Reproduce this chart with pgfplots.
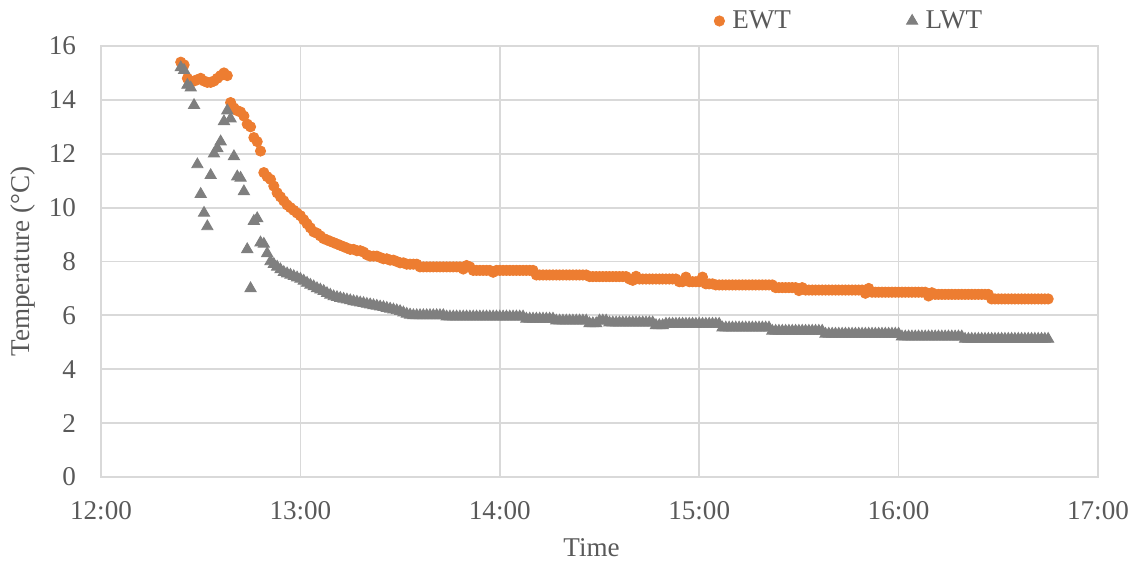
\documentclass[border=0pt]{standalone}
\usepackage{fontspec}
\setmainfont{Liberation Serif}
\usepackage{pgfplots}
\usepackage{pgfplotstable}
\pgfplotsset{compat=1.18}
\definecolor{ewtc}{HTML}{ED7D31}
\definecolor{lwtc}{HTML}{7F7F7F}
\definecolor{gridc}{HTML}{D9D9D9}
\definecolor{txtc}{HTML}{595959}

% time in minutes after 12:00, temperature in degC
\pgfplotstableread[row sep=\\]{
m t\\
24 15.4\\ 25 15.3\\ 26 14.8\\ 27 14.7\\ 28 14.7\\ 29 14.75\\ 30 14.8\\ 31 14.7\\ 32 14.65\\ 33 14.65\\
34 14.7\\ 35 14.8\\ 36 14.9\\ 37 15.0\\ 38 14.9\\ 39 13.9\\ 40 13.7\\ 41 13.6\\ 42 13.55\\ 43 13.4\\
44 13.1\\ 45 13.0\\ 46 12.6\\ 47 12.45\\ 48 12.1\\ 49 11.3\\ 50 11.15\\ 51 11.05\\ 52 10.8\\ 53 10.55\\
54 10.4\\ 55 10.25\\ 56 10.1\\ 57 10.0\\ 58 9.9\\ 59 9.8\\ 60 9.7\\ 61 9.55\\ 62 9.4\\ 63 9.25\\
64 9.1\\ 65 9.05\\ 66 8.95\\ 67 8.85\\ 68 8.8\\ 69 8.75\\ 70 8.7\\ 71 8.65\\ 72 8.6\\ 73 8.55\\
74 8.5\\ 75 8.45\\ 76 8.45\\ 77 8.4\\ 78 8.4\\ 79 8.35\\ 80 8.25\\ 81 8.2\\ 82 8.2\\ 83 8.2\\
84 8.15\\ 85 8.1\\ 86 8.1\\ 87 8.05\\ 88 8.05\\ 89 8.0\\ 90 7.95\\ 91 7.95\\ 92 7.9\\ 93 7.9\\
94 7.9\\ 95 7.9\\ 96 7.8\\ 97 7.8\\ 98 7.8\\ 99 7.8\\ 100 7.8\\ 101 7.8\\ 102 7.8\\ 103 7.8\\
104 7.8\\ 105 7.8\\ 106 7.8\\ 107 7.8\\ 108 7.8\\ 109 7.72\\ 110 7.85\\ 111 7.8\\ 112 7.67\\ 113 7.67\\
114 7.67\\ 115 7.67\\ 116 7.67\\ 117 7.67\\ 118 7.6\\ 119 7.67\\ 120 7.67\\ 121 7.67\\ 122 7.67\\ 123 7.67\\
124 7.67\\ 125 7.67\\ 126 7.67\\ 127 7.67\\ 128 7.67\\ 129 7.67\\ 130 7.67\\ 131 7.5\\ 132 7.5\\ 133 7.5\\
134 7.5\\ 135 7.5\\ 136 7.5\\ 137 7.5\\ 138 7.5\\ 139 7.5\\ 140 7.5\\ 141 7.5\\ 142 7.5\\ 143 7.5\\
144 7.5\\ 145 7.5\\ 146 7.5\\ 147 7.44\\ 148 7.44\\ 149 7.44\\ 150 7.44\\ 151 7.44\\ 152 7.44\\ 153 7.44\\
154 7.44\\ 155 7.44\\ 156 7.44\\ 157 7.44\\ 158 7.44\\ 159 7.35\\ 160 7.3\\ 161 7.45\\ 162 7.35\\ 163 7.35\\
164 7.35\\ 165 7.35\\ 166 7.35\\ 167 7.35\\ 168 7.35\\ 169 7.35\\ 170 7.35\\ 171 7.35\\ 172 7.35\\ 173 7.35\\
174 7.25\\ 175 7.25\\ 176 7.42\\ 177 7.25\\ 178 7.25\\ 179 7.25\\ 180 7.25\\ 181 7.42\\ 182 7.17\\ 183 7.17\\
184 7.17\\ 185 7.13\\ 186 7.13\\ 187 7.13\\ 188 7.13\\ 189 7.13\\ 190 7.13\\ 191 7.13\\ 192 7.13\\ 193 7.13\\
194 7.13\\ 195 7.13\\ 196 7.13\\ 197 7.13\\ 198 7.13\\ 199 7.13\\ 200 7.13\\ 201 7.13\\ 202 7.13\\ 203 7.03\\
204 7.03\\ 205 7.03\\ 206 7.03\\ 207 7.03\\ 208 7.03\\ 209 7.03\\ 210 6.92\\ 211 7.03\\ 212 6.94\\ 213 6.94\\
214 6.94\\ 215 6.94\\ 216 6.94\\ 217 6.94\\ 218 6.94\\ 219 6.94\\ 220 6.94\\ 221 6.94\\ 222 6.94\\ 223 6.94\\
224 6.94\\ 225 6.94\\ 226 6.94\\ 227 6.94\\ 228 6.94\\ 229 6.94\\ 230 6.82\\ 231 7.0\\ 232 6.86\\ 233 6.86\\
234 6.86\\ 235 6.86\\ 236 6.86\\ 237 6.86\\ 238 6.86\\ 239 6.86\\ 240 6.86\\ 241 6.86\\ 242 6.86\\ 243 6.86\\
244 6.86\\ 245 6.86\\ 246 6.86\\ 247 6.86\\ 248 6.86\\ 249 6.72\\ 250 6.84\\ 251 6.78\\ 252 6.78\\ 253 6.78\\
254 6.78\\ 255 6.78\\ 256 6.78\\ 257 6.78\\ 258 6.78\\ 259 6.78\\ 260 6.78\\ 261 6.78\\ 262 6.78\\ 263 6.78\\
264 6.78\\ 265 6.78\\ 266 6.78\\ 267 6.78\\ 268 6.61\\ 269 6.61\\ 270 6.61\\ 271 6.61\\ 272 6.61\\ 273 6.61\\
274 6.61\\ 275 6.61\\ 276 6.61\\ 277 6.61\\ 278 6.61\\ 279 6.61\\ 280 6.61\\ 281 6.61\\ 282 6.61\\ 283 6.61\\
284 6.61\\ 285 6.61\\
}\ewt

\pgfplotstableread[row sep=\\]{
m t\\
24 15.2\\ 25 15.1\\ 26 14.55\\ 27 14.45\\ 28 13.8\\ 29 11.6\\ 30 10.5\\ 31 9.8\\ 32 9.3\\ 33 11.2\\
34 12.0\\ 35 12.2\\ 36 12.45\\ 37 13.2\\ 38 13.6\\ 39 13.3\\ 40 11.9\\ 41 11.15\\ 42 11.1\\ 43 10.6\\
44 8.45\\ 45 7.0\\ 46 9.5\\ 47 9.6\\ 48 8.7\\ 49 8.65\\ 50 8.3\\ 51 8.0\\ 52 7.9\\ 53 7.8\\
54 7.7\\ 55 7.6\\ 56 7.55\\ 57 7.5\\ 58 7.45\\ 59 7.4\\ 60 7.35\\ 61 7.28\\ 62 7.2\\ 63 7.13\\
64 7.07\\ 65 7.0\\ 66 6.95\\ 67 6.9\\ 68 6.82\\ 69 6.76\\ 70 6.7\\ 71 6.67\\ 72 6.64\\ 73 6.61\\
74 6.58\\ 75 6.55\\ 76 6.52\\ 77 6.5\\ 78 6.47\\ 79 6.45\\ 80 6.42\\ 81 6.4\\ 82 6.37\\ 83 6.35\\
84 6.32\\ 85 6.3\\ 86 6.27\\ 87 6.24\\ 88 6.21\\ 89 6.18\\ 90 6.15\\ 91 6.1\\ 92 6.05\\ 93 6.02\\
94 6.0\\ 95 6.0\\ 96 6.0\\ 97 6.0\\ 98 6.0\\ 99 6.0\\ 100 6.0\\ 101 6.0\\ 102 6.0\\ 103 6.0\\
104 5.95\\ 105 5.95\\ 106 5.95\\ 107 5.95\\ 108 5.95\\ 109 5.95\\ 110 5.95\\ 111 5.95\\ 112 5.95\\ 113 5.95\\
114 5.95\\ 115 5.95\\ 116 5.95\\ 117 5.95\\ 118 5.95\\ 119 5.95\\ 120 5.95\\ 121 5.95\\ 122 5.95\\ 123 5.95\\
124 5.95\\ 125 5.95\\ 126 5.95\\ 127 5.95\\ 128 5.87\\ 129 5.87\\ 130 5.87\\ 131 5.87\\ 132 5.87\\ 133 5.87\\
134 5.87\\ 135 5.87\\ 136 5.87\\ 137 5.8\\ 138 5.8\\ 139 5.8\\ 140 5.8\\ 141 5.8\\ 142 5.8\\ 143 5.8\\
144 5.8\\ 145 5.8\\ 146 5.8\\ 147 5.7\\ 148 5.7\\ 149 5.7\\ 150 5.8\\ 151 5.8\\ 152 5.8\\ 153 5.73\\
154 5.73\\ 155 5.73\\ 156 5.73\\ 157 5.73\\ 158 5.73\\ 159 5.73\\ 160 5.73\\ 161 5.73\\ 162 5.73\\ 163 5.73\\
164 5.73\\ 165 5.73\\ 166 5.73\\ 167 5.63\\ 168 5.63\\ 169 5.63\\ 170 5.68\\ 171 5.68\\ 172 5.68\\ 173 5.68\\
174 5.68\\ 175 5.68\\ 176 5.68\\ 177 5.68\\ 178 5.68\\ 179 5.68\\ 180 5.68\\ 181 5.68\\ 182 5.68\\ 183 5.68\\
184 5.68\\ 185 5.68\\ 186 5.68\\ 187 5.54\\ 188 5.54\\ 189 5.54\\ 190 5.54\\ 191 5.54\\ 192 5.54\\ 193 5.54\\
194 5.54\\ 195 5.54\\ 196 5.54\\ 197 5.54\\ 198 5.54\\ 199 5.54\\ 200 5.54\\ 201 5.54\\ 202 5.42\\ 203 5.42\\
204 5.42\\ 205 5.42\\ 206 5.42\\ 207 5.42\\ 208 5.42\\ 209 5.42\\ 210 5.42\\ 211 5.42\\ 212 5.42\\ 213 5.42\\
214 5.42\\ 215 5.42\\ 216 5.42\\ 217 5.42\\ 218 5.31\\ 219 5.31\\ 220 5.31\\ 221 5.31\\ 222 5.31\\ 223 5.31\\
224 5.31\\ 225 5.31\\ 226 5.31\\ 227 5.31\\ 228 5.31\\ 229 5.31\\ 230 5.31\\ 231 5.31\\ 232 5.31\\ 233 5.31\\
234 5.31\\ 235 5.31\\ 236 5.31\\ 237 5.31\\ 238 5.31\\ 239 5.31\\ 240 5.31\\ 241 5.21\\ 242 5.21\\ 243 5.21\\
244 5.21\\ 245 5.21\\ 246 5.21\\ 247 5.21\\ 248 5.21\\ 249 5.21\\ 250 5.21\\ 251 5.21\\ 252 5.21\\ 253 5.21\\
254 5.21\\ 255 5.21\\ 256 5.21\\ 257 5.21\\ 258 5.21\\ 259 5.21\\ 260 5.12\\ 261 5.12\\ 262 5.12\\ 263 5.12\\
264 5.12\\ 265 5.12\\ 266 5.12\\ 267 5.12\\ 268 5.12\\ 269 5.12\\ 270 5.12\\ 271 5.12\\ 272 5.12\\ 273 5.12\\
274 5.12\\ 275 5.12\\ 276 5.12\\ 277 5.12\\ 278 5.12\\ 279 5.12\\ 280 5.12\\ 281 5.12\\ 282 5.12\\ 283 5.12\\
284 5.12\\ 285 5.12\\
}\lwt

\begin{document}
\begin{tikzpicture}
\begin{axis}[
  name=ax,
  scale only axis,
  width=448.65pt, height=193.95pt,
  xmin=0, xmax=300, ymin=0, ymax=16,
  xtick={0,60,...,300},
  xticklabels={12:00,13:00,14:00,15:00,16:00,17:00},
  ytick={0,2,...,16},
  grid=major,
  major grid style={draw=gridc, line width=0.8pt},
  axis line style={draw=gridc, line width=0.8pt},
  major tick length=0pt,
  /pgf/number format/assume math mode=true,
  tick label style={font=\fontsize{12.2}{14}\selectfont, text=txtc},
  xticklabel style={yshift=-7.5pt},
  yticklabel style={xshift=-7.7pt},
  label style={font=\fontsize{12.2}{14}\selectfont, text=txtc},
  xlabel={Time},
  xlabel style={at={(axis description cs:0.492,-0.165)}, anchor=center},
  ylabel={Temperature (°C)},
  ylabel style={at={(axis description cs:-0.078,0.5)}, anchor=center},
  legend columns=2,
  legend style={draw=none, fill=none, at={(rel axis cs:0.608,1.058)}, anchor=west,
    font=\fontsize{12.2}{14}\selectfont, text=txtc,
    /tikz/every odd column/.append style={column sep=1.5pt},
    /tikz/every even column/.append style={column sep=50pt}},
  legend image code/.code={\draw[#1] plot coordinates {(0.2cm,0cm)};},
  clip=false,
]
\addplot[only marks, mark=*, mark size=2.3pt, color=ewtc, mark options={draw=none, fill=ewtc}]
  table[x=m, y=t] {\ewt};
\addlegendentry{EWT}
\addplot[only marks, mark=triangle*, mark size=2.9pt, color=lwtc, mark options={draw=none, fill=lwtc}]
  table[x=m, y=t] {\lwt};
\addlegendentry{LWT}
\end{axis}
\path ([shift={(-45.45pt,-38.7pt)}]ax.south west) rectangle ([shift={(19.35pt,20.7pt)}]ax.north east);
\end{tikzpicture}
\end{document}
